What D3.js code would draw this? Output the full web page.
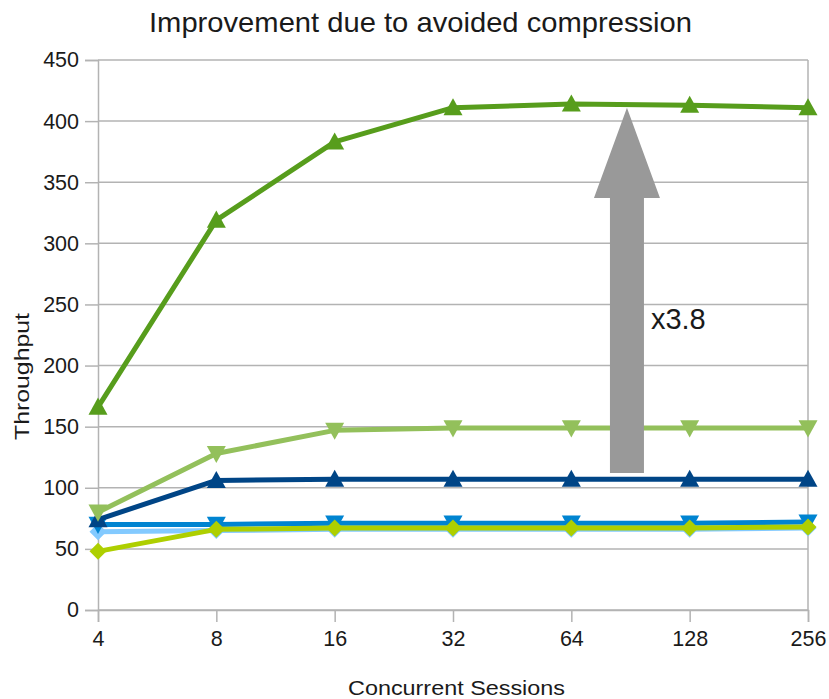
<!DOCTYPE html>
<html><head><meta charset="utf-8">
<script src="https://cdn.jsdelivr.net/npm/d3@7"></script>
<style>
body{margin:0;background:#fff;}
text{font-family:"Liberation Sans",Arial,sans-serif;fill:#1a1a1a;}
</style></head><body>
<svg id="c" width="829" height="699"></svg>
<script>
const categories = ["4","8","16","32","64","128","256"];
const lightBlueDiamond   = [64, 65, 66, 66, 66, 66, 67];
const blueDown           = [70, 70, 71, 71, 71, 71, 72];
const yellowGreenDiamond = [48, 66, 67, 67, 67, 67, 68];
const navyUp             = [74, 106, 107, 107, 107, 107, 107];
const lightGreenDown     = [80, 128, 147, 149, 149, 149, 149];
const darkGreenUp        = [166, 319, 383, 411, 414, 413, 411];
const yTicks = [0,50,100,150,200,250,300,350,400,450];
const title = "Improvement due to avoided compression";
const xTitle = "Concurrent Sessions";
const yTitle = "Throughput";
const annotation = "x3.8";

const series = [
  {v: lightBlueDiamond,   color:"#83caff", sym:"diamond"},
  {v: blueDown,           color:"#0084d1", sym:"down"},
  {v: yellowGreenDiamond, color:"#aecf00", sym:"diamond"},
  {v: navyUp,             color:"#004586", sym:"up"},
  {v: lightGreenDown,     color:"#93c05b", sym:"down"},
  {v: darkGreenUp,        color:"#579d1c", sym:"up"}
];

const svg = d3.select("#c");
const L=98, R=808, T=60, B=610;
const x = d3.scalePoint().domain(categories).range([L,R]);
const y = d3.scaleLinear().domain([0,450]).range([B,T]);

// gridlines
svg.append("g").selectAll("line").data(yTicks).join("line")
  .attr("x1",L).attr("x2",R).attr("y1",d=>y(d)).attr("y2",d=>y(d))
  .attr("stroke","#b3b3b3").attr("stroke-width",1.5);
svg.append("line").attr("x1",R).attr("x2",R).attr("y1",T).attr("y2",B)
  .attr("stroke","#b3b3b3").attr("stroke-width",1.5);

// y axis
const yAxis = svg.append("g").attr("transform",`translate(${L},0)`)
  .call(d3.axisLeft(y).tickValues(yTicks).tickSize(13).tickPadding(6));
yAxis.select(".domain").attr("stroke","#b3b3b3").attr("stroke-width",1.5);
yAxis.selectAll(".tick line").attr("stroke","#b3b3b3").attr("stroke-width",1.5);
yAxis.selectAll("text").attr("font-size",21.5).attr("fill","#1a1a1a")
  .style("font-family",'"Liberation Sans",Arial,sans-serif');

// x axis
const xAxis = svg.append("g").attr("transform",`translate(0,${B})`)
  .call(d3.axisBottom(x).tickSize(12).tickPadding(9));
xAxis.select(".domain").attr("stroke","#b3b3b3").attr("stroke-width",1.5);
xAxis.selectAll(".tick line").attr("stroke","#b3b3b3").attr("stroke-width",1.5);
xAxis.selectAll("text").attr("font-size",21.5).attr("fill","#1a1a1a")
  .style("font-family",'"Liberation Sans",Arial,sans-serif');

// series
const line = d3.line().x((d,i)=>x(categories[i])).y(d=>y(d));
function markerPath(sym){
  const s=9.5;
  if(sym==="up") return `M0,${-s}L${s},${s*0.8}L${-s},${s*0.8}Z`;
  if(sym==="down") return `M0,${s}L${s},${-s*0.8}L${-s},${-s*0.8}Z`;
  return `M0,${-8.5}L8.5,0L0,8.5L-8.5,0Z`;
}
series.forEach(s=>{
  const g=svg.append("g");
  g.append("path").datum(s.v).attr("d",line).attr("fill","none")
    .attr("stroke",s.color).attr("stroke-width",5).attr("stroke-linejoin","round");
  g.selectAll("path.m").data(s.v).join("path").attr("class","m")
    .attr("transform",(d,i)=>`translate(${x(categories[i])},${y(d)})`)
    .attr("d",markerPath(s.sym)).attr("fill",s.color);
});

// arrow annotation
const step = x.step();
const ax = x("64") + step*0.47;
const tipV=411, headV=337, baseV=112;
const hw=33, sw=17;
svg.append("path")
  .attr("d",`M${ax},${y(tipV)}L${ax+hw},${y(headV)}L${ax+sw},${y(headV)}L${ax+sw},${y(baseV)}L${ax-sw},${y(baseV)}L${ax-sw},${y(headV)}L${ax-hw},${y(headV)}Z`)
  .attr("fill","#999999");
svg.append("text").attr("x",ax+24).attr("y",y(230)).attr("font-size",29)
  .text(annotation);

// titles
svg.append("text").attr("x",149).attr("y",32)
  .attr("font-size",28).attr("textLength",543).attr("lengthAdjust","spacingAndGlyphs").text(title);
svg.append("text").attr("x",348).attr("y",695)
  .attr("font-size",20).attr("textLength",217).attr("lengthAdjust","spacingAndGlyphs").text(xTitle);
svg.append("text").attr("transform",`translate(29,440) rotate(-90)`)
  .attr("font-size",21).attr("textLength",127).attr("lengthAdjust","spacingAndGlyphs").text(yTitle);
</script></body></html>
